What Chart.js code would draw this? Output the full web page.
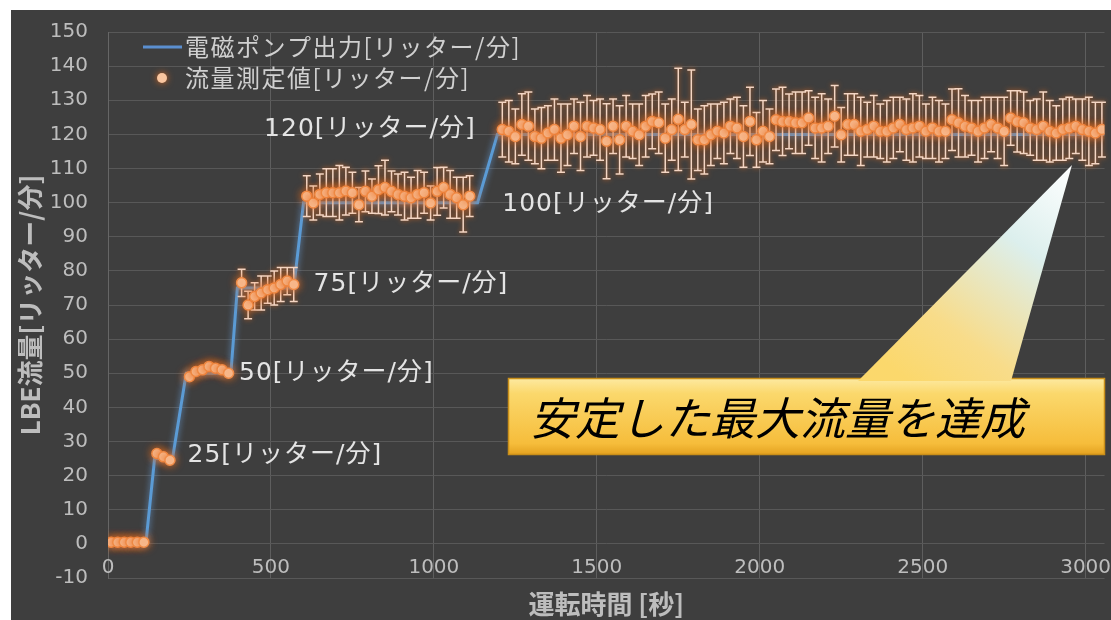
<!DOCTYPE html>
<html>
<head>
<meta charset="utf-8">
<script src="https://cdn.jsdelivr.net/npm/chart.js@4.4.1/dist/chart.umd.min.js"></script>
<style>
  html, body { margin: 0; padding: 0; background: #ffffff; }
  #wrap { position: absolute; left: 11px; top: 10px; width: 1100px; height: 610px; background: #3e3e3e; }
</style>
</head>
<body>
<div id="wrap"><canvas id="flowChart" width="1100" height="610"></canvas></div>
<script>
// pump output (blue line)
const pumpTime = [0, 116, 143, 198, 240, 377, 397, 570, 600, 1134, 1195, 3058];
const pumpFlow = [0, 0, 25, 25, 50, 50, 75, 75, 100, 100, 120, 120];

// measured flow (orange dots with error bars)
const measTime = [
  10, 30, 50, 70, 90, 110,
  150, 170, 190,
  250, 270, 290, 310, 330, 350, 370,
  410, 430, 450, 470, 490, 510, 530, 550, 570,
  610, 630, 650, 670, 690, 710, 730, 750, 770, 790,
  810, 830, 850, 870, 890, 910, 930, 950, 970, 990,
  1010, 1030, 1050, 1070, 1090, 1110,
  1210, 1230, 1250, 1270, 1290, 1310, 1330, 1350, 1370, 1390,
  1410, 1430, 1450, 1470, 1490, 1510, 1530, 1550, 1570, 1590,
  1610, 1630, 1650, 1670, 1690, 1710, 1730, 1750, 1770, 1790,
  1810, 1830, 1850, 1870, 1890, 1910, 1930, 1950, 1970, 1990,
  2010, 2030, 2050, 2070, 2090, 2110, 2130, 2150, 2170, 2190,
  2210, 2230, 2250, 2270, 2290, 2310, 2330, 2350, 2370, 2390,
  2410, 2430, 2450, 2470, 2490, 2510, 2530, 2550, 2570, 2590,
  2610, 2630, 2650, 2670, 2690, 2710, 2730, 2750, 2770, 2790,
  2810, 2830, 2850, 2870, 2890, 2910, 2930, 2950, 2970, 2990,
  3010, 3030, 3050
];
const measFlow = [
  0.5, 0.5, 0.5, 0.5, 0.5, 0.5,
  26.5, 25.5, 24.5,
  49, 50.5, 51, 52, 51.5, 51, 50,
  76.5, 70, 72.5, 73.5, 74.5, 75, 76, 77, 76,
  101.9, 99.9, 102.4, 102.9, 102.9, 102.9, 103.4, 102.9, 99.4, 103.3,
  101.9, 103.8, 104.4, 103.3, 102.4, 101.9, 101.4, 102.4, 102.9, 99.9,
  103.3, 104.4, 102.4, 101.4, 99.4, 101.9,
  121.4, 120.9, 119.4, 122.9, 122.4, 119.4, 118.9, 120.4, 121.4, 118.9,
  119.9, 122.4, 119.4, 122.4, 121.9, 121.4, 118.0, 122.4, 118.4, 122.4,
  120.9, 119.9, 122.4, 123.8, 123.4, 118.9, 121.4, 124.4, 121.4, 122.9,
  118.4, 118.4, 119.9, 120.9, 120.4, 122.4, 121.9, 119.4, 123.8, 118.4,
  120.9, 119.4, 124.3, 123.8, 123.8, 123.4, 123.4, 124.8, 121.9, 121.9,
  122.4, 125.3, 119.9, 122.9, 122.9, 120.9, 121.4, 122.4, 120.9, 120.9,
  121.9, 122.9, 121.4, 121.9, 122.4, 120.9, 121.9, 120.9, 120.9, 124.3,
  123.4, 122.4, 121.9, 120.9, 121.9, 122.9, 121.9, 120.9, 124.8, 123.8,
  123.4, 121.9, 121.4, 122.4, 120.9, 120.4, 121.4, 121.9, 122.4, 121.4,
  120.9, 120.4, 121.4
];
const measErr = [
  0.6, 0.6, 0.6, 0.6, 0.6, 0.6,
  1, 1, 1,
  1, 1, 1, 1, 1, 1, 1,
  4, 4, 4, 5, 4, 5, 5, 4, 5,
  6, 5, 6, 7, 7, 8, 7, 6, 5, 6,
  5, 7, 8, 6, 6, 7, 6, 7, 6, 5,
  7, 6, 7, 6, 8, 6,
  8, 9, 8, 9, 10, 8, 9, 8, 9, 10,
  9, 8, 10, 9, 8, 9, 11, 8, 10, 9,
  8, 9, 9, 8, 9, 10, 9, 15, 8, 16,
  9, 10, 9, 8, 9, 8, 9, 9, 10, 8,
  9, 8, 9, 10, 8, 9, 9, 8, 9, 10,
  8, 9, 8, 9, 9, 10, 8, 9, 8, 9,
  9, 8, 9, 10, 9, 8, 9, 9, 8, 9,
  10, 9, 8, 9, 9, 8, 9, 10, 8, 9,
  9, 8, 9, 10, 9, 8, 9, 9, 8, 9,
  10, 9, 8
];

// axis settings
const xTicks = [0, 500, 1000, 1500, 2000, 2500, 3000];
const xMin = 0, xMax = 3058;
const yMin = -10, yMax = 150, yStep = 10;

// level labels next to each step
const levelLabels = [
  { text: '120[リッター/分]', x: 479, y: 121.4 },
  { text: '100[リッター/分]', x: 1210, y: 99.4 },
  { text: '75[リッター/分]', x: 631, y: 76 },
  { text: '50[リッター/分]', x: 402, y: 50 },
  { text: '25[リッター/分]', x: 244, y: 25.8 }
];

const cjk = '"Noto Sans CJK JP", sans-serif';
const tickFont = '"DejaVu Sans", "Noto Sans CJK JP", sans-serif';

// error bars + glow
const glowPlugin = {
  id: 'glow',
  beforeDatasetDraw(chart, args) {
    const ctx = chart.ctx;
    ctx.save();
    if (args.index === 0) {
      ctx.shadowColor = 'rgba(110,170,235,0.8)';
      ctx.shadowBlur = 6;
    } else if (args.index === 1) {
      const xs = chart.scales.x, ys = chart.scales.y;
      ctx.shadowColor = 'rgba(235,110,30,0.8)';
      ctx.shadowBlur = 5;
      ctx.strokeStyle = '#f4d6c4';
      ctx.lineWidth = 1.5;
      ctx.beginPath();
      for (let i = 0; i < measTime.length; i++) {
        if (measErr[i] < 2) continue;
        const px = xs.getPixelForValue(measTime[i]);
        const top = ys.getPixelForValue(measFlow[i] + measErr[i]);
        const bot = ys.getPixelForValue(measFlow[i] - measErr[i]);
        ctx.moveTo(px, top); ctx.lineTo(px, bot);
        ctx.moveTo(px - 4, top); ctx.lineTo(px + 4, top);
        ctx.moveTo(px - 4, bot); ctx.lineTo(px + 4, bot);
      }
      ctx.stroke();
      ctx.shadowColor = 'rgba(235,110,30,0.9)';
      ctx.shadowBlur = 8;
    }
  },
  afterDatasetDraw(chart) {
    chart.ctx.restore();
  }
};

// labels, legend and callout
const decorPlugin = {
  id: 'decor',
  afterDraw(chart) {
    const ctx = chart.ctx;
    const xs = chart.scales.x, ys = chart.scales.y;
    ctx.save();

    // x tick labels (sit just above the -10 line)
    ctx.font = '20px ' + tickFont;
    ctx.fillStyle = '#bdbdbd';
    ctx.textAlign = 'center';
    ctx.textBaseline = 'middle';
    xTicks.forEach(function(v) {
      ctx.fillText(String(v), xs.getPixelForValue(v), ys.getPixelForValue(yMin) - 10);
    });

    // step labels
    ctx.font = '25px ' + tickFont;
    ctx.letterSpacing = '1px';
    ctx.fillStyle = '#e4e4e4';
    ctx.textAlign = 'left';
    levelLabels.forEach(function(l) {
      ctx.fillText(l.text, xs.getPixelForValue(l.x), ys.getPixelForValue(l.y));
    });

    // legend
    ctx.font = '24px ' + cjk;
    ctx.letterSpacing = '1.5px';
    ctx.fillStyle = '#d0d0d0';
    ctx.fillText(chart.data.datasets[0].label, 174, 37);
    ctx.fillText(chart.data.datasets[1].label, 174, 68);
    ctx.letterSpacing = '0px';
    ctx.save();
    ctx.strokeStyle = '#5b8fd0';
    ctx.lineWidth = 3;
    ctx.beginPath(); ctx.moveTo(132, 37); ctx.lineTo(171, 37); ctx.stroke();
    ctx.shadowColor = 'rgba(235,110,30,0.9)';
    ctx.shadowBlur = 7;
    ctx.fillStyle = '#f9c6a0';
    ctx.beginPath(); ctx.arc(151, 68, 5, 0, Math.PI * 2); ctx.fill();
    ctx.restore();

    // callout box
    const bx = 497, by = 368, bw = 597, bh = 77;
    let g = ctx.createLinearGradient(0, by, 0, by + bh);
    g.addColorStop(0, '#fdeaa2');
    g.addColorStop(0.2, '#fbd86c');
    g.addColorStop(0.85, '#f6bd3b');
    g.addColorStop(1, '#e3a01e');
    ctx.fillStyle = g;
    ctx.fillRect(bx, by, bw, bh);
    ctx.strokeStyle = '#c98f1a';
    ctx.lineWidth = 1.5;
    ctx.strokeRect(bx + 0.5, by + 0.5, bw - 1, bh - 1);

    // callout pointer
    g = ctx.createLinearGradient(1061, 155, 900, 372);
    g.addColorStop(0, '#ffffff');
    g.addColorStop(0.35, '#dcefed');
    g.addColorStop(0.75, '#f8dc8a');
    g.addColorStop(1, '#fbd86c');
    ctx.fillStyle = g;
    ctx.beginPath();
    ctx.moveTo(847, 371);
    ctx.lineTo(1061, 155);
    ctx.lineTo(1000, 371);
    ctx.closePath();
    ctx.fill();

    ctx.font = 'italic 45px ' + cjk;
    ctx.fillStyle = '#000000';
    ctx.textAlign = 'left';
    ctx.textBaseline = 'middle';
    ctx.fillText('安定した最大流量を達成', 519, 408);
    ctx.restore();
  }
};

const ctx = document.getElementById('flowChart').getContext('2d');
const chart = new Chart(ctx, {
  type: 'scatter',
  data: {
    datasets: [{
      label: '電磁ポンプ出力[リッター/分]',
      data: pumpTime.map(function(t, i) { return { x: t, y: pumpFlow[i] }; }),
      showLine: true,
      borderColor: '#5b9bd5',
      borderWidth: 3,
      pointRadius: 0,
      tension: 0,
      order: 2
    }, {
      label: '流量測定値[リッター/分]',
      data: measTime.map(function(t, i) { return { x: t, y: measFlow[i] }; }),
      pointRadius: 5,
      backgroundColor: '#f9c6a0',
      borderColor: '#f08c48',
      borderWidth: 1.5,
      order: 1
    }]
  },
  options: {
    responsive: false,
    animation: false,
    layout: { padding: { top: 22, left: 0, right: 0, bottom: 0 } },
    plugins: {
      legend: { display: false },
      tooltip: { enabled: false }
    },
    scales: {
      x: {
        type: 'linear',
        min: xMin,
        max: xMax,
        ticks: { display: false },
        afterBuildTicks: function(scale) {
          scale.ticks = xTicks.map(function(v) { return { value: v }; });
        },
        afterFit: function(scale) {
          scale.height = 42;
          scale.paddingLeft = 0;
          scale.paddingRight = 0;
        },
        grid: { display: true, color: '#5e5e5e', lineWidth: 1, drawTicks: false },
        border: { display: false },
        title: {
          display: true,
          text: '運転時間 [秒]',
          color: '#bdbdbd',
          font: { size: 26, weight: 'bold', family: cjk },
          padding: { top: 0, bottom: 0 }
        }
      },
      y: {
        min: yMin,
        max: yMax,
        ticks: {
          stepSize: yStep,
          color: '#bdbdbd',
          font: { size: 20, family: tickFont },
          padding: 20
        },
        afterFit: function(scale) {
          scale.width = 97;
          scale.paddingTop = 0;
          scale.paddingBottom = 0;
        },
        grid: { color: '#585858', drawTicks: false },
        border: { display: true, color: '#666666' },
        title: {
          display: true,
          text: 'LBE流量[リッター/分]',
          color: '#bdbdbd',
          font: { size: 26, weight: 'bold', family: cjk },
          padding: { top: 4, bottom: 0 }
        }
      }
    }
  },
  plugins: [glowPlugin, decorPlugin]
});
</script>
</body>
</html>
